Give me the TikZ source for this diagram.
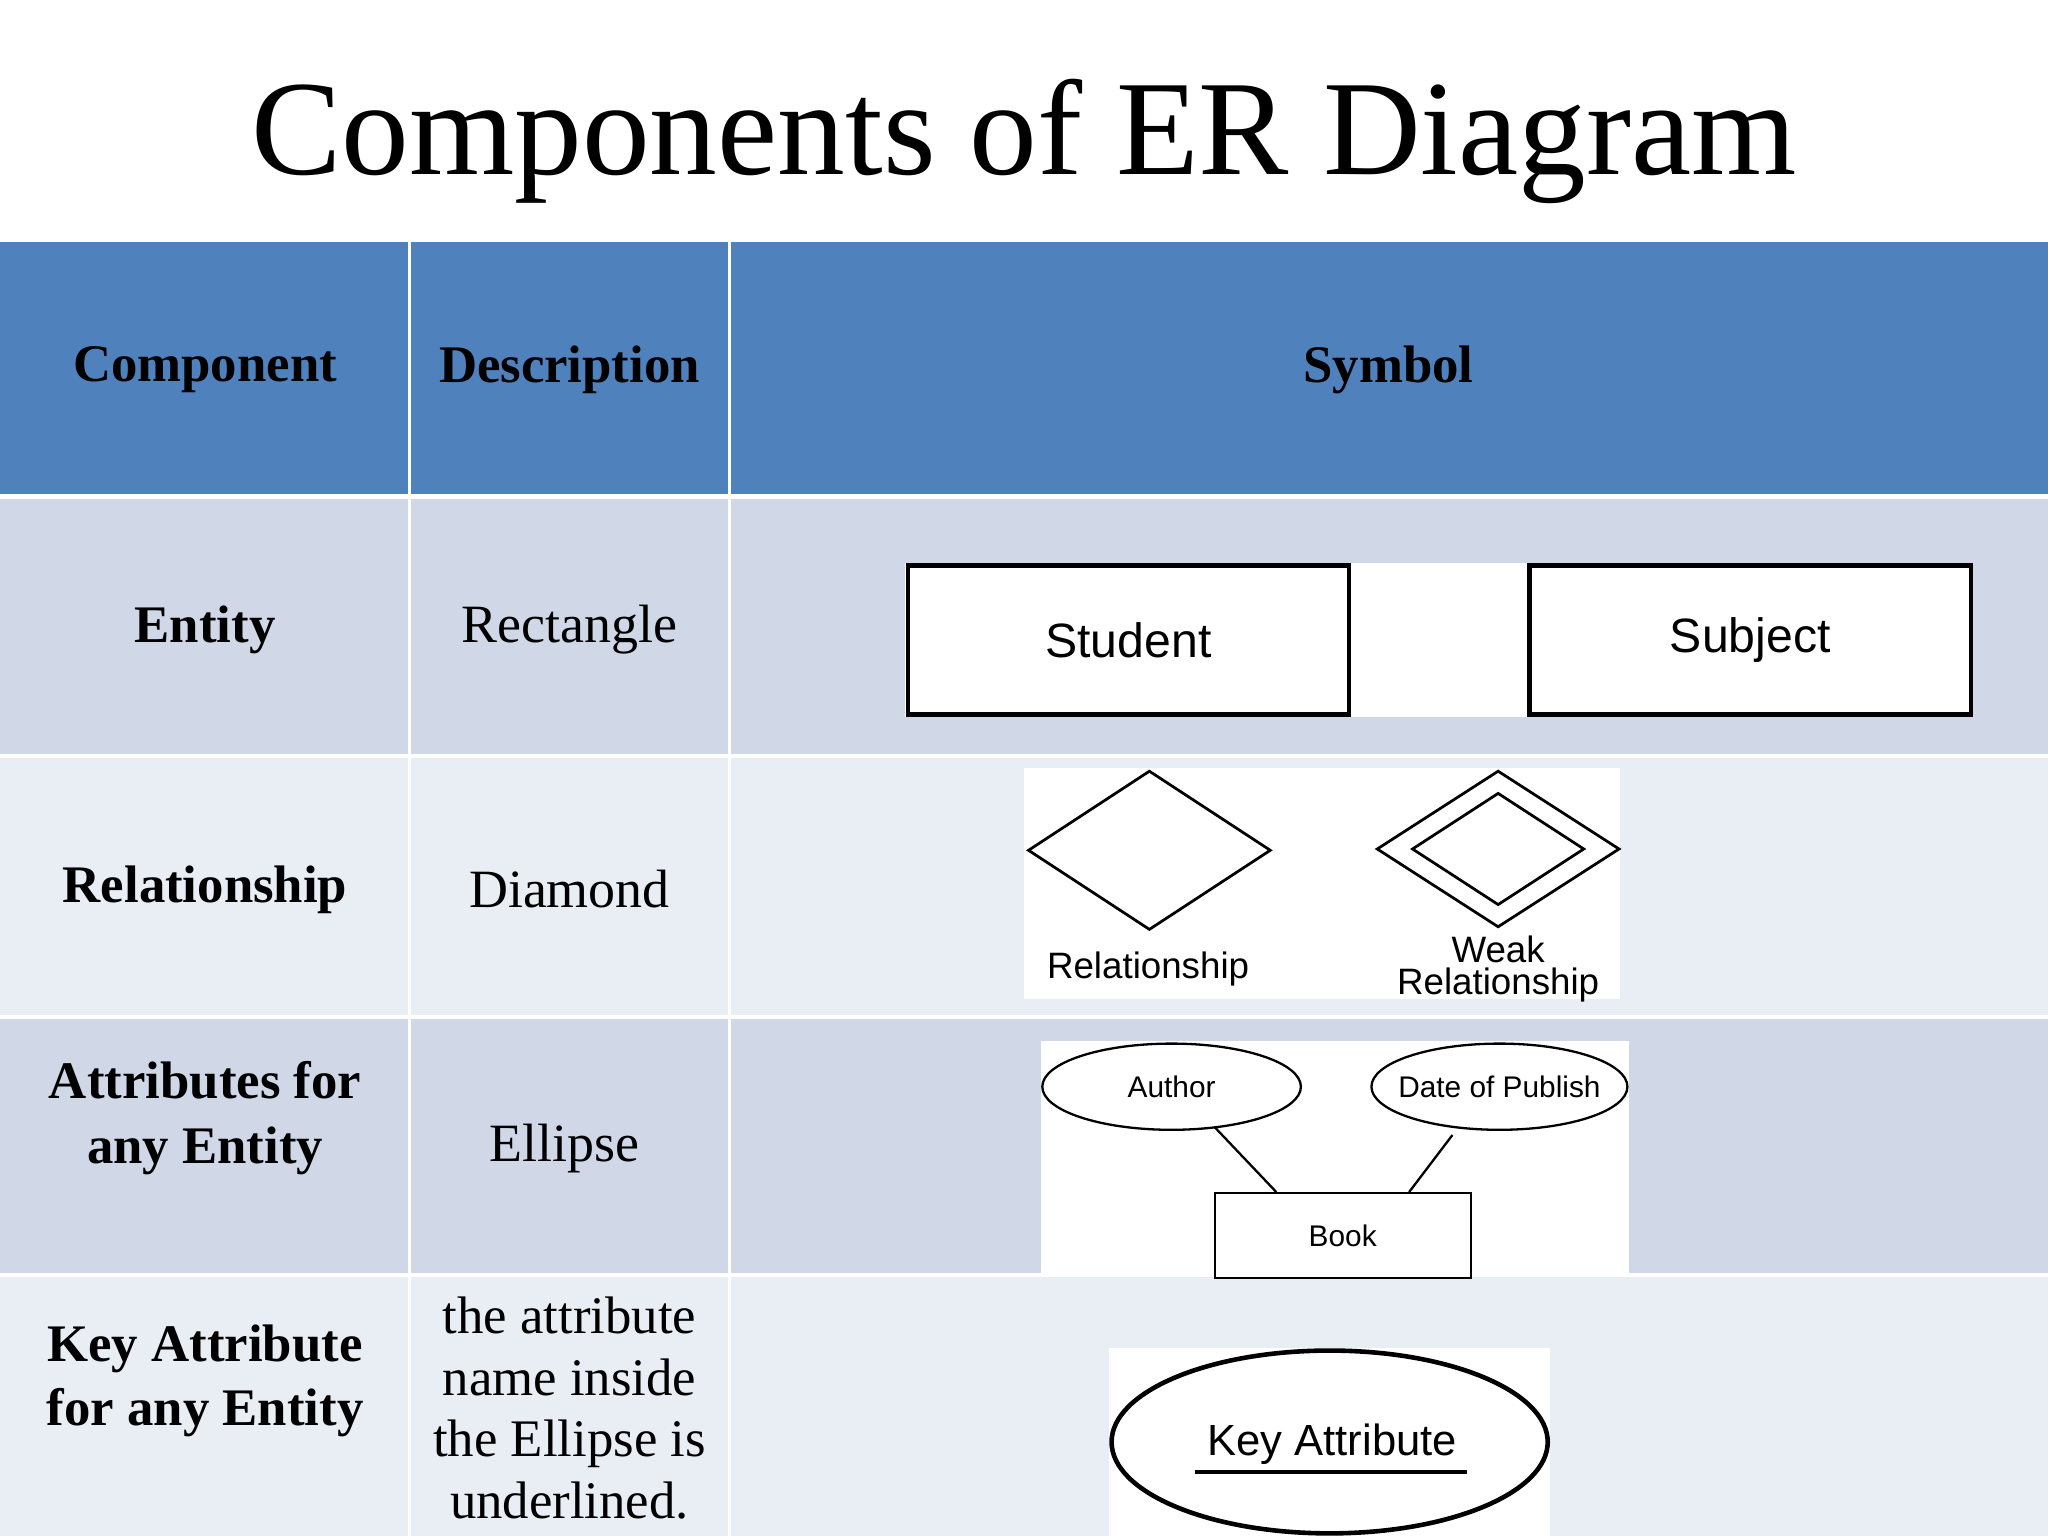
\documentclass[tikz,border=0pt]{standalone}
\usepackage{fontspec}
\setmainfont{Liberation Serif}
\newfontfamily\sans{Liberation Sans}
\usetikzlibrary{shapes.geometric}
\definecolor{hdr}{HTML}{4F81BD}
\definecolor{rowa}{HTML}{D0D8E8}
\definecolor{rowb}{HTML}{E9EDF4}
\begin{document}
\begin{tikzpicture}[x=0.02cm,y=-0.02cm,
  cell/.style={font=\fontsize{23.5}{29}\selectfont, align=center},
  hd/.style={cell, font=\fontsize{23}{28}\selectfont\bfseries},
  ent/.style={draw, line width=2pt, minimum width=6.76cm, minimum height=2.28cm, font=\sans\fontsize{21}{25}\selectfont},
  lab/.style={font=\sans\fontsize{16}{14}\selectfont, align=center, inner sep=0pt},
  att/.style={font=\sans\fontsize{13}{14}\selectfont, inner sep=0pt}]
\useasboundingbox (0,0) rectangle (1568,1176);
\fill[white] (0,0) rectangle (1568,1176);
\node (title) at (784,108) {\fontsize{59}{66}\selectfont Components of ER Diagram};
% table backgrounds
\fill[hdr] (0,185) rectangle (312,378); \fill[hdr] (315,185) rectangle (557,378); \fill[hdr] (560,185) rectangle (1568,378);
\foreach \ya/\yb/\c in {382/577/rowa, 580/777/rowb, 780/975/rowa, 978/1176/rowb}{
  \fill[\c] (0,\ya) rectangle (312,\yb); \fill[\c] (315,\ya) rectangle (557,\yb); \fill[\c] (560,\ya) rectangle (1568,\yb);}
\node[hd] (h1) at (157,283) {Component};
\node[hd] (h2) at (436,283) {Description};
\node[hd] (h3) at (1063,283) {Symbol};
\node[hd] (c1) at (157,482) {Entity};
\node[cell] (d1) at (436,482) {Rectangle};
\node[hd] (c2) at (157,681) {Relationship};
\node[cell] (d2) at (436,681) {Diamond};
\node[hd] (c3) at (157,856) {Attributes for\\any Entity};
\node[cell] (d3) at (432,879) {Ellipse};
\node[hd] (c4) at (157,1057) {Key Attribute\\for any Entity};
\node[cell, font=\fontsize{23}{26.8}\selectfont] (d4) at (436,1078) {the attribute\\name inside\\the Ellipse is\\underlined.};
% entity
\fill[white] (693,431) rectangle (1510,549);
\node[ent] (student) at (864,490) {Student};
\node[ent] (subject) at (1340,490) {Subject};
% relationship
\fill[white] (784,588) rectangle (1240,765);
\node[draw, diamond, line width=1.2pt, minimum width=3.72cm, minimum height=2.44cm, inner sep=0pt] (rel) at (880,651) {};
\node[draw, diamond, line width=1.2pt, minimum width=3.72cm, minimum height=2.4cm, inner sep=0pt] (weak) at (1147,650) {};
\node[draw, diamond, line width=1.2pt, minimum width=2.64cm, minimum height=1.72cm, inner sep=0pt] (weakin) at (1147,650) {};
\node[lab] (rl) at (879,742) {Relationship};
\node[lab] (wl) at (1147,742) {Weak\\Relationship};
% attributes
\fill[white] (797,797) rectangle (1247,978);
\draw[line width=1pt] (897,832) ellipse [x radius=99, y radius=33];
\draw[line width=1pt] (1148,832) ellipse [x radius=98, y radius=33];
\node[att] (author) at (897,832) {Author};
\node[att] (date) at (1148,832) {Date of Publish};
\node[draw, line width=1pt, minimum width=3.92cm, minimum height=1.3cm, font=\sans\fontsize{13}{14}\selectfont] (book) at (1028,946) {Book};
\coordinate (a1) at (930,863);
\coordinate (a2) at (1112,869);
\draw[line width=1pt] (a1) -- ([xshift=0.96cm]book.north west);
\draw[line width=1pt] (a2) -- ([xshift=-0.96cm]book.north east);
% key
\fill[white] (849,1032) rectangle (1187,1176);
\node[draw, ellipse, line width=2pt, minimum width=6.68cm, minimum height=2.8cm, inner sep=0pt] (key) at (1018,1104) {};
\node[font=\sans\fontsize{19}{22}\selectfont] (kt) at (1020,1106) {Key Attribute};
\draw[line width=1.5pt] (915,1127) -- (1123,1127);
\end{tikzpicture}
\end{document}
